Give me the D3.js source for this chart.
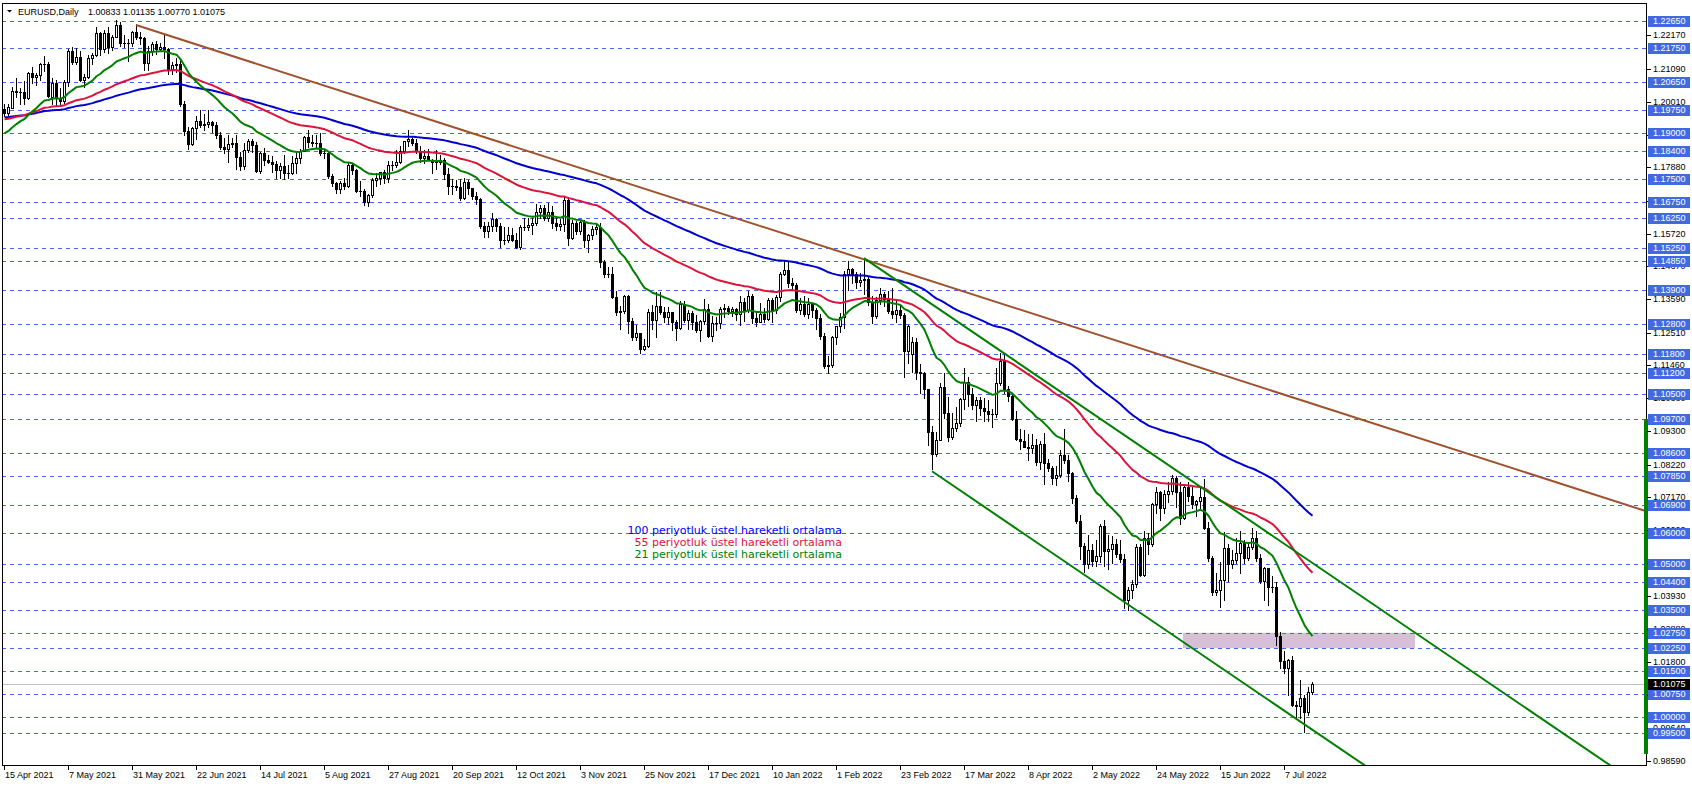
<!DOCTYPE html>
<html><head><meta charset="utf-8">
<script src="https://cdn.jsdelivr.net/npm/d3@7"></script>
<style>html,body{margin:0;padding:0;background:#fff;overflow:hidden}</style>
</head><body>
<svg id="c" width="1692" height="786"></svg>
<script>
// ---------- DATA (daily EURUSD candles, rows = [open, high, low, close]) ----------
const apr21 = [
[1.1978,1.1994,1.1956,1.1966],[1.1966,1.1994,1.1957,1.1983],[1.1982,1.2048,1.1980,1.2036],[1.2036,1.2080,1.2017,1.2034],
[1.2034,1.2045,1.1994,1.2034],[1.2034,1.2070,1.1994,1.2015],[1.2015,1.2098,1.2012,1.2096],[1.2096,1.2116,1.2062,1.2081],
[1.2081,1.2094,1.2056,1.2090],[1.2090,1.2128,1.2071,1.2125],[1.2125,1.2150,1.2103,1.2123],[1.2123,1.2130,1.2016,1.2019]];
const may21 = [
[1.2017,1.2078,1.1995,1.2063],[1.2063,1.2073,1.1987,1.2014],[1.2014,1.2046,1.1993,1.2005],[1.2005,1.2071,1.1998,1.2065],
[1.2065,1.2173,1.2052,1.2165],[1.2165,1.2181,1.2123,1.2131],[1.2131,1.2177,1.2123,1.2148],[1.2148,1.2168,1.2068,1.2073],
[1.2073,1.2091,1.2051,1.2081],[1.2081,1.2155,1.2078,1.2144],[1.2144,1.2160,1.2124,1.2153],[1.2153,1.2245,1.2150,1.2225],
[1.2225,1.2228,1.2152,1.2173],[1.2173,1.2235,1.2162,1.2226],[1.2226,1.2244,1.2160,1.2180],[1.2180,1.2220,1.2170,1.2213],
[1.2213,1.2266,1.2212,1.2250],[1.2250,1.2262,1.2182,1.2192],[1.2192,1.2220,1.2179,1.2193],[1.2193,1.2206,1.2133,1.2193],
[1.2193,1.2230,1.2184,1.2228]];
const jun21 = [
[1.2228,1.2254,1.2205,1.2212],[1.2212,1.2229,1.2188,1.2210],[1.2210,1.2213,1.2104,1.2126],[1.2126,1.2184,1.2105,1.2166],
[1.2166,1.2196,1.2153,1.2190],[1.2190,1.2200,1.2158,1.2172],[1.2172,1.2194,1.2166,1.2178],[1.2178,1.2218,1.2145,1.2172],
[1.2172,1.2175,1.2093,1.2108],[1.2108,1.2130,1.2092,1.2121],[1.2121,1.2145,1.2099,1.2125],[1.2125,1.2137,1.1987,1.1995],
[1.1995,1.2004,1.1893,1.1906],[1.1906,1.1921,1.1847,1.1865],[1.1865,1.1918,1.1860,1.1917],[1.1917,1.1955,1.1880,1.1940],
[1.1940,1.1974,1.1921,1.1926],[1.1926,1.1963,1.1911,1.1930],[1.1930,1.1975,1.1920,1.1936],[1.1936,1.1938,1.1902,1.1925],
[1.1925,1.1935,1.1883,1.1895],[1.1895,1.1903,1.1847,1.1856]];
const jul21 = [
[1.1856,1.1885,1.1834,1.1848],[1.1848,1.1895,1.1807,1.1864],[1.1864,1.1883,1.1853,1.1866],[1.1866,1.1895,1.1782,1.1822],
[1.1822,1.1839,1.1781,1.1791],[1.1791,1.1868,1.1782,1.1844],[1.1844,1.1880,1.1837,1.1875],[1.1875,1.1880,1.1838,1.1861],
[1.1861,1.1872,1.1772,1.1776],[1.1776,1.1838,1.1770,1.1835],[1.1835,1.1850,1.1795,1.1812],[1.1812,1.1829,1.1801,1.1806],
[1.1806,1.1826,1.1774,1.1800],[1.1800,1.1808,1.1755,1.1781],[1.1781,1.1802,1.1752,1.1794],[1.1794,1.1829,1.1751,1.1771],
[1.1771,1.1797,1.1755,1.1771],[1.1771,1.1826,1.1767,1.1801],[1.1801,1.1840,1.1770,1.1818],[1.1818,1.1849,1.1803,1.1843],
[1.1843,1.1891,1.1840,1.1887],[1.1887,1.1909,1.1856,1.1870]];
const aug21 = [
[1.1870,1.1892,1.1858,1.1869],[1.1869,1.1895,1.1856,1.1869],[1.1869,1.1900,1.1830,1.1835],[1.1835,1.1848,1.1820,1.1836],
[1.1836,1.1842,1.1753,1.1761],[1.1761,1.1765,1.1728,1.1736],[1.1736,1.1742,1.1706,1.1718],[1.1718,1.1744,1.1705,1.1738],
[1.1738,1.1752,1.1717,1.1728],[1.1728,1.1805,1.1723,1.1795],[1.1795,1.1799,1.1765,1.1778],[1.1778,1.1783,1.1709,1.1711],
[1.1711,1.1745,1.1694,1.1711],[1.1711,1.1717,1.1666,1.1675],[1.1675,1.1703,1.1664,1.1697],[1.1697,1.1752,1.1693,1.1747],
[1.1747,1.1770,1.1728,1.1755],[1.1755,1.1774,1.1734,1.1773],[1.1773,1.1780,1.1736,1.1752],[1.1752,1.1808,1.1740,1.1795],
[1.1795,1.1810,1.1778,1.1796],[1.1796,1.1846,1.1790,1.1807]];
const sep21 = [
[1.1807,1.1857,1.1802,1.1840],[1.1840,1.1871,1.1834,1.1874],[1.1874,1.1909,1.1857,1.1880],[1.1880,1.1884,1.1860,1.1869],
[1.1869,1.1881,1.1836,1.1843],[1.1843,1.1857,1.1804,1.1818],[1.1818,1.1844,1.1802,1.1826],[1.1826,1.1847,1.1812,1.1813],
[1.1813,1.1815,1.1771,1.1806],[1.1806,1.1846,1.1782,1.1805],[1.1805,1.1830,1.1800,1.1813],[1.1813,1.1820,1.1751,1.1765],
[1.1765,1.1785,1.1700,1.1726],[1.1726,1.1749,1.1700,1.1727],[1.1727,1.1747,1.1714,1.1724],[1.1724,1.1750,1.1683,1.1689],
[1.1689,1.1752,1.1684,1.1740],[1.1740,1.1747,1.1700,1.1720],[1.1720,1.1722,1.1686,1.1696],[1.1696,1.1709,1.1669,1.1684],
[1.1684,1.1687,1.1592,1.1598],[1.1598,1.1611,1.1562,1.1580]];
const oct21 = [
[1.1580,1.1609,1.1563,1.1596],[1.1596,1.1641,1.1580,1.1620],[1.1620,1.1625,1.1580,1.1598],[1.1598,1.1606,1.1529,1.1553],
[1.1553,1.1593,1.1540,1.1553],[1.1553,1.1594,1.1545,1.1569],[1.1569,1.1592,1.1550,1.1552],[1.1552,1.1575,1.1525,1.1529],
[1.1529,1.1600,1.1523,1.1594],[1.1594,1.1624,1.1584,1.1595],[1.1595,1.1624,1.1585,1.1600],[1.1600,1.1622,1.1571,1.1608],
[1.1608,1.1669,1.1601,1.1643],[1.1643,1.1667,1.1622,1.1655],[1.1655,1.1665,1.1618,1.1623],[1.1623,1.1671,1.1613,1.1643],
[1.1643,1.1664,1.1592,1.1608],[1.1608,1.1625,1.1586,1.1597],[1.1597,1.1620,1.1586,1.1603],[1.1603,1.1692,1.1582,1.1681],
[1.1681,1.1692,1.1535,1.1557]];
const nov21 = [
[1.1557,1.1616,1.1556,1.1607],[1.1607,1.1614,1.1570,1.1581],[1.1581,1.1616,1.1572,1.1609],[1.1609,1.1616,1.1528,1.1553],
[1.1553,1.1570,1.1513,1.1567],[1.1567,1.1598,1.1555,1.1588],[1.1588,1.1608,1.1573,1.1595],[1.1595,1.1608,1.1464,1.1480],
[1.1480,1.1486,1.1432,1.1443],[1.1443,1.1464,1.1433,1.1443],[1.1443,1.1465,1.1365,1.1368],[1.1368,1.1385,1.1309,1.1319],
[1.1319,1.1336,1.1263,1.1321],[1.1321,1.1374,1.1316,1.1370],[1.1370,1.1374,1.1250,1.1289],[1.1289,1.1299,1.1227,1.1237],
[1.1237,1.1275,1.1227,1.1250],[1.1250,1.1251,1.1186,1.1198],[1.1198,1.1229,1.1194,1.1208],[1.1208,1.1329,1.1204,1.1318],
[1.1318,1.1340,1.1263,1.1292],[1.1292,1.1383,1.1235,1.1336]];
const dec21 = [
[1.1336,1.1383,1.1310,1.1319],[1.1319,1.1334,1.1287,1.1302],[1.1302,1.1333,1.1280,1.1317],[1.1317,1.1318,1.1260,1.1286],
[1.1286,1.1291,1.1227,1.1267],[1.1267,1.1355,1.1264,1.1344],[1.1344,1.1353,1.1285,1.1292],[1.1292,1.1324,1.1262,1.1314],
[1.1314,1.1321,1.1263,1.1285],[1.1285,1.1307,1.1252,1.1258],[1.1258,1.1293,1.1222,1.1289],[1.1289,1.1360,1.1279,1.1329],
[1.1329,1.1343,1.1235,1.1239],[1.1239,1.1305,1.1222,1.1281],[1.1281,1.1302,1.1261,1.1282],[1.1282,1.1334,1.1266,1.1328],
[1.1328,1.1345,1.1302,1.1330],[1.1330,1.1339,1.1312,1.1320],[1.1320,1.1334,1.1305,1.1327],[1.1327,1.1331,1.1293,1.1311],
[1.1311,1.1369,1.1276,1.1352],[1.1352,1.1362,1.1290,1.1324],[1.1324,1.1385,1.1318,1.1370]];
const jan22 = [
[1.1370,1.1376,1.1281,1.1298],[1.1298,1.1322,1.1272,1.1287],[1.1287,1.1346,1.1284,1.1313],[1.1313,1.1332,1.1286,1.1296],
[1.1296,1.1364,1.1292,1.1358],[1.1358,1.1363,1.1284,1.1325],[1.1325,1.1374,1.1314,1.1368],[1.1368,1.1449,1.1354,1.1442],
[1.1442,1.1483,1.1438,1.1455],[1.1455,1.1482,1.1398,1.1411],[1.1411,1.1428,1.1394,1.1407],[1.1407,1.1412,1.1318,1.1325],
[1.1325,1.1363,1.1312,1.1343],[1.1343,1.1369,1.1306,1.1312],[1.1312,1.1363,1.1297,1.1343],[1.1343,1.1347,1.1302,1.1326],
[1.1326,1.1330,1.1264,1.1300],[1.1300,1.1310,1.1231,1.1240],[1.1240,1.1250,1.1136,1.1143],[1.1143,1.1175,1.1121,1.1147],
[1.1147,1.1240,1.1139,1.1235]];
const feb22 = [
[1.1235,1.1273,1.1213,1.1271],[1.1271,1.1315,1.1253,1.1302],[1.1302,1.1451,1.1266,1.1440],[1.1440,1.1483,1.1391,1.1457],
[1.1457,1.1461,1.1413,1.1441],[1.1441,1.1449,1.1395,1.1414],[1.1414,1.1446,1.1402,1.1422],[1.1422,1.1495,1.1375,1.1424],
[1.1424,1.1433,1.1340,1.1349],[1.1349,1.1370,1.1281,1.1306],[1.1306,1.1367,1.1299,1.1357],[1.1357,1.1395,1.1345,1.1376],
[1.1376,1.1384,1.1338,1.1361],[1.1361,1.1386,1.1314,1.1322],[1.1322,1.1395,1.1299,1.1310],[1.1310,1.1360,1.1287,1.1324],
[1.1324,1.1344,1.1300,1.1308],[1.1308,1.1316,1.1106,1.1190],[1.1190,1.1275,1.1152,1.1271],[1.1180,1.1236,1.1124,1.1219]];
const mar22 = [
[1.1219,1.1234,1.1100,1.1124],[1.1124,1.1150,1.1056,1.1118],[1.1118,1.1122,1.1038,1.1066],[1.1066,1.1067,1.0887,1.0929],
[1.0929,1.0946,1.0806,1.0855],[1.0855,1.0929,1.0850,1.0903],[1.0903,1.1087,1.0901,1.1075],[1.1075,1.1121,1.0973,1.0989],
[1.0989,1.1043,1.0899,1.0911],[1.0911,1.0988,1.0906,1.0941],[1.0941,1.1008,1.0931,1.0956],[1.0956,1.1038,1.0947,1.1035],
[1.1035,1.1137,1.1003,1.1090],[1.1090,1.1105,1.1012,1.1052],[1.1052,1.1071,1.1001,1.1016],[1.1016,1.1043,1.0962,1.1031],
[1.1031,1.1042,1.0983,1.1007],[1.1007,1.1037,1.0964,1.0997],[1.0997,1.1032,1.0963,1.0985],[1.0985,1.1001,1.0945,1.0985],
[1.0985,1.1137,1.0976,1.1087],[1.1087,1.1185,1.1079,1.1159],[1.1159,1.1183,1.1056,1.1067]];
const apr22 = [
[1.1067,1.1077,1.1027,1.1046],[1.1046,1.1055,1.0968,1.0971],[1.0971,1.0996,1.0901,1.0906],[1.0906,1.0936,1.0873,1.0899],
[1.0899,1.0935,1.0879,1.0879],[1.0879,1.0922,1.0837,1.0876],[1.0876,1.0922,1.0858,1.0887],[1.0887,1.0904,1.0822,1.0830],
[1.0830,1.0898,1.0807,1.0889],[1.0889,1.0924,1.0758,1.0827],[1.0827,1.0840,1.0801,1.0810],[1.0810,1.0816,1.0760,1.0779],
[1.0779,1.0816,1.0757,1.0787],[1.0787,1.0869,1.0780,1.0852],[1.0852,1.0936,1.0828,1.0836],[1.0836,1.0852,1.0770,1.0796],
[1.0796,1.0798,1.0697,1.0714],[1.0714,1.0722,1.0632,1.0638],[1.0638,1.0658,1.0515,1.0558],[1.0558,1.0568,1.0471,1.0498],
[1.0498,1.0594,1.0486,1.0544]];
const may22 = [
[1.0544,1.0565,1.0492,1.0508],[1.0508,1.0578,1.0491,1.0525],[1.0525,1.0630,1.0505,1.0621],[1.0621,1.0642,1.0493,1.0540],
[1.0540,1.0593,1.0483,1.0548],[1.0548,1.0590,1.0501,1.0562],[1.0562,1.0580,1.0522,1.0530],[1.0530,1.0578,1.0505,1.0514],
[1.0514,1.0531,1.0354,1.0380],[1.0380,1.0424,1.0350,1.0413],[1.0413,1.0445,1.0389,1.0435],[1.0435,1.0564,1.0423,1.0554],
[1.0554,1.0565,1.0459,1.0462],[1.0462,1.0605,1.0459,1.0584],[1.0584,1.0598,1.0532,1.0562],[1.0562,1.0697,1.0556,1.0693],
[1.0693,1.0748,1.0663,1.0734],[1.0734,1.0737,1.0642,1.0680],[1.0680,1.0739,1.0663,1.0727],[1.0727,1.0765,1.0699,1.0735],
[1.0735,1.0787,1.0726,1.0778],[1.0778,1.0786,1.0683,1.0733]];
const jun22 = [
[1.0733,1.0765,1.0627,1.0647],[1.0647,1.0752,1.0644,1.0750],[1.0750,1.0764,1.0702,1.0719],[1.0719,1.0751,1.0680,1.0693],
[1.0693,1.0708,1.0653,1.0703],[1.0703,1.0749,1.0675,1.0717],[1.0717,1.0774,1.0612,1.0616],[1.0616,1.0635,1.0507,1.0518],
[1.0518,1.0523,1.0398,1.0408],[1.0408,1.0470,1.0398,1.0415],[1.0415,1.0506,1.0359,1.0446],[1.0446,1.0601,1.0382,1.0551],
[1.0551,1.0565,1.0444,1.0497],[1.0497,1.0544,1.0485,1.0511],[1.0511,1.0582,1.0502,1.0535],[1.0535,1.0606,1.0470,1.0566],
[1.0566,1.0578,1.0501,1.0519],[1.0519,1.0570,1.0512,1.0553],[1.0553,1.0614,1.0547,1.0584],[1.0584,1.0606,1.0509,1.0518],
[1.0518,1.0530,1.0436,1.0442],[1.0442,1.0488,1.0383,1.0484]];
const jul22 = [
[1.0484,1.0487,1.0366,1.0425],[1.0425,1.0461,1.0409,1.0425],[1.0425,1.0440,1.0236,1.0266],[1.0266,1.0276,1.0161,1.0182],
[1.0182,1.0216,1.0143,1.0161],[1.0161,1.0189,1.0072,1.0185],[1.0185,1.0199,1.0036,1.0039],[1.0039,1.0052,0.9999,1.0037],
[1.0037,1.0122,0.9998,1.0062],[1.0062,1.0071,0.9952,1.0018],[1.0018,1.0097,1.0007,1.0081],[1.00833,1.01135,1.00770,1.01075]];

// time-axis labels (one every 16 bars)
const dateLabels = ["15 Apr 2021","7 May 2021","31 May 2021","22 Jun 2021","14 Jul 2021","5 Aug 2021","27 Aug 2021",
  "20 Sep 2021","12 Oct 2021","3 Nov 2021","25 Nov 2021","17 Dec 2021","10 Jan 2022","1 Feb 2022","23 Feb 2022",
  "17 Mar 2022","8 Apr 2022","2 May 2022","24 May 2022","15 Jun 2022","7 Jul 2022"];
const dateLabelBars = [0,16,32,48,64,80,96,112,128,144,160,176,192,208,224,240,256,272,288,304,320];

// price-axis tick labels
const priceTicks = [1.22170,1.21090,1.20010,1.18930,1.17880,1.16800,1.15720,1.14670,1.13590,1.12510,1.11460,
  1.10380,1.09300,1.08220,1.07170,1.06090,1.05010,1.03930,1.02880,1.01800,1.00720,0.99640,0.98590];
// horizontal level lines (labelled on the price axis)
const levels = [1.22650,1.21750,1.20650,1.19750,1.19000,1.18400,1.17500,1.16750,1.16250,1.15250,1.14850,1.13900,
  1.12800,1.11800,1.11200,1.10500,1.09700,1.08600,1.07850,1.06900,1.06000,1.05000,1.04400,1.03500,1.02750,1.02250,
  1.01500,1.00750,1.00000,0.99500];

// EMA settings (period, value at first bar, colour)
const emaPeriods = [100, 55, 21];
const emaSeeds   = [1.1951, 1.1945, 1.1899];
const emaColors  = ["#0000CD", "#DC143C", "#008000"];
const legendTexts = ["100 periyotluk üstel hareketli ortalama","55 periyotluk üstel hareketli ortalama","21 periyotluk üstel hareketli ortalama"];
const legendColors = ["#0000FF", "#DC143C", "#008000"];

// drawn objects: anchors as [bar index, price]
const resistanceLine = [[33, 1.2251],[215, 1.1489]];
const channelUpper   = [[215, 1.1493],[340, 1.0388]];
const channelLower   = [[232, 1.0800],[300, 1.0199]];
const zoneBars   = [294.75, 352.75];
const zonePrices = [1.0275, 1.0225];
const rangeBar   = [1.0970, 0.9881];

// ---------- BUILD ----------
const rows = [].concat(apr21,may21,jun21,jul21,aug21,sep21,oct21,nov21,dec21,jan22,feb22,mar22,apr22,may22,jun22,jul22);
const candles = rows.map((r,i)=>({i, o:r[0], h:r[1], l:r[2], c:r[3]}));
const last = candles[candles.length-1];

const L=2, T=3, R=1646, B=765;
const x = d3.scaleLinear().domain([0, 410.5]).range([4, 1646]);
const y = d3.scaleLinear().domain([0.98450, 1.23226]).range([B, T]);

const FA = "'Liberation Sans', Arial, sans-serif";
const svg = d3.select("#c");
svg.append("rect").attr("width",1692).attr("height",786).attr("fill","#fff");
svg.append("defs").append("clipPath").attr("id","pc").append("rect")
  .attr("x",L).attr("y",T).attr("width",R-L).attr("height",B-T);
const g = svg.append("g").attr("clip-path","url(#pc)");

// zone rectangle (background)
g.append("rect").attr("x",x(zoneBars[0])).attr("width",x(zoneBars[1])-x(zoneBars[0]))
  .attr("y",y(zonePrices[0])).attr("height",y(zonePrices[1])-y(zonePrices[0])).attr("fill","#D8BFD8");

// level lines
g.selectAll("line.lv").data(levels).join("line").attr("class","lv")
  .attr("x1",L).attr("x2",R).attr("y1",d=>Math.round(y(d))+0.5).attr("y2",d=>Math.round(y(d))+0.5)
  .attr("stroke","#4169E1").attr("stroke-width",1).attr("stroke-dasharray","4,4").attr("shape-rendering","crispEdges");

// current price line
g.append("line").attr("x1",L).attr("x2",R).attr("y1",Math.round(y(last.c))+0.5).attr("y2",Math.round(y(last.c))+0.5)
  .attr("stroke","#C0C0C0").attr("stroke-width",1).attr("shape-rendering","crispEdges");

// candles
const cg = g.append("g").attr("shape-rendering","crispEdges");
candles.forEach(d=>{
  const cx = Math.round(x(d.i));
  const yh=Math.round(y(d.h)), yl=Math.round(y(d.l)), yo=Math.round(y(d.o)), yc=Math.round(y(d.c));
  cg.append("rect").attr("x",cx).attr("y",yh).attr("width",1).attr("height",yl-yh+1).attr("fill","#000");
  const top=Math.min(yo,yc), bot=Math.max(yo,yc);
  cg.append("rect").attr("x",cx-1).attr("y",top).attr("width",3).attr("height",bot-top+1).attr("fill","#000");
  if (d.c>d.o && bot-top>=2) {
    cg.append("rect").attr("x",cx).attr("y",top+1).attr("width",1).attr("height",bot-top-1).attr("fill","#fff");
  }
});

// EMAs
function ema(vals, period, seed){ const k=2/(period+1); const out=[seed];
  for(let i=1;i<vals.length;i++) out.push(out[i-1]+k*(vals[i]-out[i-1])); return out; }
const closes = candles.map(d=>d.c);
const line = d3.line().x((d,i)=>Math.round(x(i))+0.5).y(d=>y(d));
emaPeriods.forEach((p,k)=>{
  g.append("path").attr("d",line(ema(closes,p,emaSeeds[k]))).attr("fill","none")
   .attr("stroke",emaColors[k]).attr("stroke-width",2).attr("stroke-linejoin","round");
});

// trend lines (rays)
function ray(a){ const [[b1,v1],[b2,v2]]=a; const s=(v2-v1)/(b2-b1); return [[b1,v1],[430, v1+s*(430-b1)]]; }
[[resistanceLine,"#A0522D"],[channelUpper,"#008000"],[channelLower,"#008000"]].forEach(([a,col])=>{
  const r = ray(a);
  g.append("line").attr("x1",x(r[0][0])).attr("y1",y(r[0][1])).attr("x2",x(r[1][0])).attr("y2",y(r[1][1]))
   .attr("stroke",col).attr("stroke-width",2);
});

// legend
legendTexts.forEach((t,k)=>{
  svg.append("text").attr("x",842).attr("y",534+k*12).attr("text-anchor","end")
    .attr("font-family","'DejaVu Sans', Verdana, sans-serif").attr("font-size",11).attr("fill",legendColors[k]).text(t);
});

// frame
svg.append("rect").attr("x",L+0.5).attr("y",T+0.5).attr("width",R-L).attr("height",B-T)
  .attr("fill","none").attr("stroke","#000").attr("stroke-width",1).attr("shape-rendering","crispEdges");

// green range bar on the price axis
svg.append("rect").attr("x",1644).attr("width",4).attr("y",y(rangeBar[0])).attr("height",y(rangeBar[1])-y(rangeBar[0]))
  .attr("fill","#008000");

// price axis ticks + labels
const ax = svg.append("g").attr("font-family",FA).attr("font-size",9);
priceTicks.forEach(p=>{
  const yy=Math.round(y(p));
  ax.append("line").attr("x1",R+1).attr("x2",R+5).attr("y1",yy+0.5).attr("y2",yy+0.5).attr("stroke","#000").attr("shape-rendering","crispEdges");
  ax.append("text").attr("x",1653).attr("y",yy+3.3).attr("fill","#000").text(p.toFixed(5));
});
levels.forEach(p=>{
  const yy=Math.round(y(p));
  ax.append("rect").attr("x",1648).attr("y",yy-5).attr("width",42).attr("height",11).attr("fill","#4169E1");
  ax.append("text").attr("x",1653).attr("y",yy+3.3).attr("fill","#fff").text(p.toFixed(5));
});
{
  const yy=Math.round(y(last.c));
  ax.append("rect").attr("x",1648).attr("y",yy-5).attr("width",42).attr("height",11).attr("fill","#000");
  ax.append("text").attr("x",1653).attr("y",yy+3.3).attr("fill","#fff").text(last.c.toFixed(5));
}

// time axis
dateLabels.forEach((t,k)=>{
  const xx=Math.round(x(dateLabelBars[k]));
  ax.append("line").attr("x1",xx+0.5).attr("x2",xx+0.5).attr("y1",B).attr("y2",B+5).attr("stroke","#000").attr("shape-rendering","crispEdges");
  ax.append("text").attr("x",xx+1).attr("y",778).attr("fill","#000").text(t);
});

// header
svg.append("path").attr("d","M7,10 L12,10 L9.5,12.5 Z").attr("fill","#000");
svg.append("text").attr("x",18).attr("y",14.5).attr("font-family",FA).attr("font-size",9).attr("fill","#000").text("EURUSD,Daily");
svg.append("text").attr("x",88).attr("y",14.5).attr("font-family",FA).attr("font-size",9).attr("fill","#000")
  .text([last.o,last.h,last.l,last.c].map(v=>v.toFixed(5)).join(" "));
</script>
</body></html>
